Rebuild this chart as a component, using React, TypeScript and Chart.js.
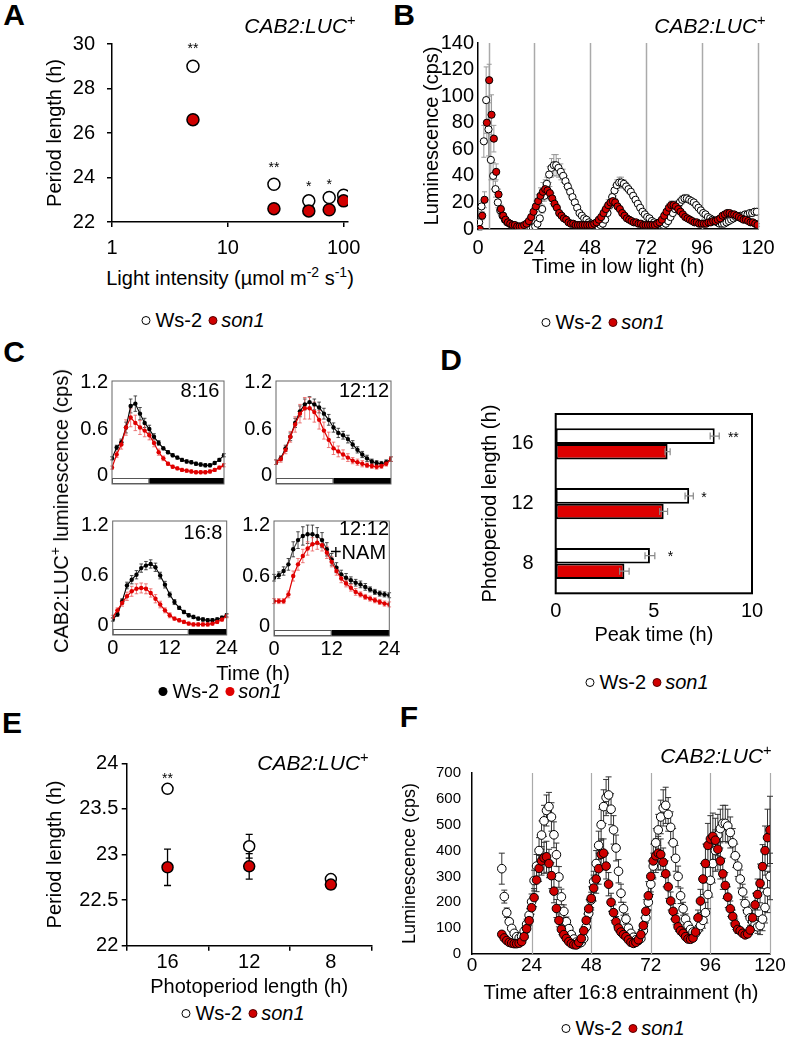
import React, { useEffect, useRef } from 'react';
import { Chart, registerables } from 'chart.js';

Chart.register(...registerables);

const FONT = '"Liberation Sans", Arial, Helvetica, sans-serif';
Chart.defaults.font.family = FONT;
Chart.defaults.color = '#000';

const RED = '#d00000';
const C_RED = '#e00000';
const seriesNames = ['Ws-2', 'son1'];

// ---------------- Panel A ----------------
const aLight = [5, 25, 50, 75, 100];
const aWs2 = [29.0, 23.7, 22.95, 23.1, 23.2];
const aSon1 = [26.6, 22.6, 22.5, 22.55, 22.95];
const aXTicks = [1, 10, 100];
const aYTicks = [22, 24, 26, 28, 30];
const aStarX = [5, 25, 50, 75];
const aStarY = [29.75, 24.4, 23.57, 23.64];
const aStarText = ['**', '**', '*', '*'];

// ---------------- Panel B ----------------
const bWsStart = 0.5;
const bSonStart = 0.8;
const bStep = 1;
const bXTicks = [0, 24, 48, 72, 96, 120];
const bGuideX = [4.7, 24, 48, 72, 96, 120];
const bWs2 = [
  5, 17, 66, 97, 75, 52, 40, 30, 20, 14, 10, 7,
  5, 4, 3, 2, 2, 1, 1, 1, 1, 1, 1, 1,
  2, 4, 8, 15, 25, 34, 41, 46, 48, 48, 46, 43,
  40, 36, 32, 28, 24, 20, 16, 12, 10, 8, 7, 5,
  4, 3, 3, 2, 3, 4, 7, 12, 18, 24, 29, 33,
  35, 35, 34, 32, 30, 28, 25, 22, 19, 16, 13, 11,
  9, 8, 6, 5, 4, 4, 3, 3, 4, 6, 9, 12,
  15, 18, 20, 22, 23, 23, 22, 21, 20, 18, 16, 14,
  12, 11, 9, 8, 7, 6, 5, 4, 4, 4, 5, 6,
  7, 8, 9, 9, 10, 10, 11, 11, 12, 12, 13, 13,
];
const bSon1 = [
  0, 10, 22, 80, 112, 86, 68, 43, 26, 15, 10, 7,
  5, 4, 3, 3, 2, 2, 2, 3, 4, 6, 9, 13,
  17, 21, 25, 28, 30, 29, 27, 23, 19, 16, 12, 10,
  8, 7, 5, 4, 4, 3, 3, 3, 3, 3, 3, 3,
  3, 4, 5, 7, 9, 12, 15, 18, 20, 21, 20, 17,
  15, 12, 10, 8, 7, 6, 5, 5, 4, 4, 3, 3,
  3, 3, 3, 3, 4, 5, 7, 10, 13, 16, 18, 18,
  17, 15, 13, 11, 9, 8, 7, 6, 5, 5, 4, 4,
  4, 4, 5, 5, 6, 6, 7, 8, 10, 11, 12, 12,
  11, 11, 10, 9, 8, 7, 7, 6, 5, 5, 4, 3,
];
const bWs2Err = [
  2, 4, 12, 25, 20, 15, 10, 6, 4, 3, 2, 2,
  1, 1, 1, 1, 1, 1, 1, 1, 1, 1, 1, 1,
  1, 1, 2, 3, 4, 5, 6, 7, 8, 8, 7, 6,
  5, 4, 3, 3, 2, 2, 2, 1, 1, 1, 1, 1,
  1, 1, 1, 1, 1, 1, 2, 2, 3, 3, 4, 4,
  4, 4, 3, 3, 3, 2, 2, 2, 2, 1, 1, 1,
  1, 1, 1, 1, 1, 1, 1, 1, 1, 2, 2, 2,
  3, 3, 3, 3, 3, 3, 2, 2, 2, 2, 2, 1,
  1, 1, 1, 1, 1, 1, 1, 1, 1, 1, 1, 1,
  1, 1, 1, 1, 1, 2, 2, 2, 2, 2, 2, 2,
];
const bSon1Err = [
  1, 3, 6, 15, 12, 15, 10, 6, 4, 3, 2, 1,
  1, 1, 1, 1, 1, 1, 1, 1, 1, 1, 2, 3,
  4, 5, 6, 7, 7, 6, 5, 4, 3, 2, 2, 1,
  1, 1, 1, 1, 1, 1, 1, 1, 1, 1, 1, 1,
  1, 1, 1, 2, 2, 3, 3, 4, 4, 3, 3, 2,
  2, 2, 1, 1, 1, 1, 1, 1, 1, 1, 1, 1,
  1, 1, 1, 1, 1, 1, 2, 2, 2, 3, 3, 3,
  2, 2, 2, 1, 1, 1, 1, 1, 1, 1, 1, 1,
  1, 1, 1, 1, 1, 1, 1, 1, 1, 2, 2, 2,
  2, 2, 1, 1, 1, 1, 1, 1, 1, 1, 1, 1,
];

// ---------------- Panel C ----------------
const cHours = [0, 1, 2, 3, 4, 5, 6, 7, 8, 9, 10, 11, 12, 13, 14, 15, 16, 17, 18, 19, 20, 21, 22, 23, 24];
const cYTicks = [0, 0.6, 1.2];
const cXTicks = [0, 12, 24];
const cLabels = ['8:16', '12:12', '16:8', '12:12'];
const cLightHours = [8, 12, 16, 12];
const c816Ws2 = [0.22, 0.36, 0.43, 0.62, 0.90, 0.93, 0.80, 0.68, 0.60, 0.50, 0.42, 0.35, 0.30, 0.26, 0.23, 0.20, 0.18, 0.17, 0.15, 0.14, 0.13, 0.13, 0.16, 0.20, 0.26];
const c816Son1 = [0.10, 0.27, 0.40, 0.62, 0.75, 0.68, 0.62, 0.58, 0.52, 0.42, 0.30, 0.22, 0.15, 0.11, 0.09, 0.07, 0.06, 0.05, 0.04, 0.04, 0.04, 0.05, 0.07, 0.10, 0.13];
const c1212Ws2 = [0.17, 0.22, 0.35, 0.50, 0.68, 0.83, 0.92, 0.95, 0.92, 0.88, 0.80, 0.72, 0.62, 0.55, 0.52, 0.47, 0.40, 0.33, 0.27, 0.22, 0.18, 0.16, 0.15, 0.17, 0.21];
const c1212Son1 = [0.17, 0.21, 0.33, 0.50, 0.66, 0.80, 0.87, 0.87, 0.82, 0.72, 0.58, 0.46, 0.35, 0.31, 0.27, 0.23, 0.19, 0.17, 0.15, 0.13, 0.12, 0.11, 0.12, 0.15, 0.21];
const c168Ws2 = [0.07, 0.13, 0.29, 0.48, 0.55, 0.61, 0.69, 0.72, 0.74, 0.70, 0.60, 0.49, 0.37, 0.28, 0.21, 0.16, 0.12, 0.10, 0.08, 0.07, 0.06, 0.06, 0.07, 0.09, 0.12];
const c168Son1 = [0.10, 0.18, 0.27, 0.35, 0.41, 0.44, 0.45, 0.44, 0.39, 0.32, 0.25, 0.18, 0.12, 0.08, 0.06, 0.04, 0.02, 0.01, 0.01, 0.01, 0.01, 0.02, 0.04, 0.07, 0.11];
const cNamWs2 = [0.58, 0.61, 0.66, 0.74, 0.92, 1.03, 1.08, 1.10, 1.10, 1.08, 1.03, 0.92, 0.80, 0.70, 0.62, 0.58, 0.55, 0.52, 0.50, 0.47, 0.44, 0.41, 0.39, 0.38, 0.37];
const cNamSon1 = [0.30, 0.30, 0.30, 0.38, 0.60, 0.74, 0.84, 0.93, 0.98, 1.00, 0.97, 0.88, 0.77, 0.66, 0.57, 0.51, 0.46, 0.41, 0.38, 0.35, 0.33, 0.31, 0.29, 0.27, 0.26];
const c816Ws2Err = [0.02, 0.03, 0.04, 0.07, 0.09, 0.10, 0.08, 0.06, 0.05, 0.04, 0.03, 0.02, 0.02, 0.02, 0.02, 0.02, 0.02, 0.02, 0.02, 0.02, 0.02, 0.02, 0.02, 0.02, 0.02];
const c816Son1Err = [0.02, 0.04, 0.06, 0.10, 0.12, 0.10, 0.09, 0.08, 0.06, 0.05, 0.04, 0.03, 0.02, 0.02, 0.02, 0.02, 0.02, 0.02, 0.02, 0.02, 0.02, 0.02, 0.02, 0.02, 0.02];
const c1212Ws2Err = [0.03, 0.03, 0.04, 0.05, 0.06, 0.07, 0.07, 0.07, 0.07, 0.07, 0.07, 0.07, 0.06, 0.06, 0.05, 0.05, 0.05, 0.04, 0.04, 0.04, 0.03, 0.03, 0.03, 0.03, 0.03];
const c1212Son1Err = [0.03, 0.04, 0.05, 0.07, 0.10, 0.12, 0.14, 0.14, 0.13, 0.12, 0.11, 0.10, 0.08, 0.07, 0.06, 0.05, 0.04, 0.04, 0.04, 0.03, 0.03, 0.03, 0.03, 0.03, 0.03];
const c168Ws2Err = [0.02, 0.02, 0.03, 0.04, 0.05, 0.05, 0.05, 0.05, 0.05, 0.05, 0.04, 0.04, 0.03, 0.03, 0.02, 0.02, 0.02, 0.02, 0.02, 0.02, 0.02, 0.02, 0.02, 0.02, 0.02];
const c168Son1Err = [0.02, 0.03, 0.04, 0.05, 0.06, 0.06, 0.06, 0.06, 0.05, 0.05, 0.04, 0.03, 0.03, 0.02, 0.02, 0.02, 0.02, 0.02, 0.02, 0.02, 0.02, 0.02, 0.02, 0.02, 0.02];
const cNamWs2Err = [0.04, 0.04, 0.05, 0.07, 0.09, 0.10, 0.11, 0.11, 0.11, 0.10, 0.09, 0.08, 0.07, 0.06, 0.05, 0.05, 0.04, 0.04, 0.04, 0.04, 0.03, 0.03, 0.03, 0.03, 0.03];
const cNamSon1Err = [0.03, 0.03, 0.03, 0.04, 0.06, 0.07, 0.08, 0.08, 0.08, 0.08, 0.07, 0.07, 0.06, 0.05, 0.05, 0.04, 0.04, 0.04, 0.03, 0.03, 0.03, 0.03, 0.03, 0.03, 0.03];

// ---------------- Panel D ----------------
const dCategories = ['16', '12', '8'];
const dWs2 = [8.1, 6.8, 4.8];
const dSon1 = [5.7, 5.5, 3.5];
const dWs2Err = [0.23, 0.21, 0.25];
const dSon1Err = [0.13, 0.2, 0.24];
const dXTicks = [0, 5, 10];
const dStarX = [9.05, 7.55, 5.85];
const dStarText = ['**', '*', '*'];

// ---------------- Panel E ----------------
const eCategories = ['16', '12', '8'];
const eWs2 = [23.72, 23.09, 22.73];
const eWs2Err = [0.03, 0.13, 0.03];
const eSon1 = [22.86, 22.87, 22.67];
const eSon1Err = [0.2, 0.14, 0.05];
const eYTicks = [22, 22.5, 23, 23.5, 24];
const eYTickLabels = ['22', '22.5', '23', '23.5', '24'];
const eStarText = ['**'];
const eStarY = [23.83];

// ---------------- Panel F ----------------
const fStart = 12;
const fStep = 1;
const fXTicks = [0, 24, 48, 72, 96, 120];
const fGuideX = [24, 48, 72, 96, 120];
const fWs2 = [
  330, 222, 160, 125, 99, 80, 67, 62, 68, 88, 115, 150,
  202, 284, 340, 400, 460, 515, 555, 570, 530, 461, 384, 298,
  221, 165, 125, 98, 75, 58, 46, 40, 45, 60, 105, 157,
  209, 280, 350, 420, 500, 570, 605, 615, 560, 480, 410, 320,
  235, 175, 135, 100, 80, 65, 55, 52, 60, 90, 140, 200,
  270, 340, 430, 480, 530, 565, 575, 540, 490, 430, 370, 300,
  225, 175, 135, 110, 95, 85, 80, 95, 110, 130, 160, 230,
  285, 350, 400, 460, 485, 505, 505, 495, 470, 430, 380, 340,
  290, 240, 195, 165, 140, 125, 115, 105, 110, 135, 180, 240,
  300,
];
const fSon1 = [
  76, 62, 52, 45, 42, 40, 40, 42, 48, 67, 98, 129,
  179, 218, 286, 331, 360, 372, 376, 350, 303, 243, 176, 130,
  95, 75, 60, 48, 40, 36, 35, 45, 60, 90, 130, 175,
  215, 255, 290, 330, 385, 390, 340, 270, 200, 160, 125, 100,
  85, 75, 67, 55, 45, 41, 45, 55, 75, 110, 165, 225,
  300, 360, 380, 390, 385, 355, 310, 260, 205, 165, 135, 105,
  90, 80, 67, 58, 57, 62, 85, 140, 205, 290, 350, 420,
  445, 455, 440, 405, 360, 310, 265, 220, 175, 145, 115, 95,
  90, 80, 74, 78, 93, 140, 190, 230, 273, 338, 400, 450,
  480,
];
const fWs2Err = [
  60, 25, 18, 12, 10, 8, 8, 8, 10, 15, 20, 25,
  30, 40, 45, 50, 55, 60, 60, 55, 55, 50, 45, 40,
  30, 25, 18, 15, 10, 8, 6, 6, 8, 10, 15, 20,
  30, 40, 50, 55, 60, 65, 70, 70, 60, 55, 50, 45,
  35, 25, 20, 15, 10, 8, 8, 8, 10, 15, 20, 30,
  40, 50, 55, 60, 65, 70, 70, 65, 60, 55, 50, 40,
  30, 25, 20, 15, 12, 12, 12, 15, 20, 30, 40, 55,
  65, 75, 80, 80, 75, 70, 70, 65, 60, 55, 45, 40,
  35, 30, 25, 20, 18, 18, 20, 25, 35, 45, 60, 80,
  90,
];
const fSon1Err = [
  10, 8, 6, 5, 5, 5, 5, 5, 6, 10, 15, 20,
  25, 35, 45, 50, 55, 60, 60, 55, 50, 45, 35, 25,
  20, 15, 10, 8, 6, 5, 5, 6, 10, 15, 25, 35,
  45, 50, 55, 60, 60, 55, 50, 45, 35, 30, 20, 15,
  12, 10, 8, 6, 5, 6, 8, 12, 20, 30, 45, 55,
  60, 65, 65, 65, 60, 55, 50, 45, 35, 30, 22, 18,
  14, 12, 10, 9, 8, 10, 15, 30, 45, 60, 75, 85,
  90, 90, 85, 80, 70, 60, 50, 40, 30, 25, 20, 15,
  12, 10, 10, 12, 18, 30, 45, 60, 75, 85, 95, 110,
  130,
];

// ---------------- helpers ----------------
const fnt = (size: number, style = 'normal', weight: any = 'normal') => ({ family: FONT, size, style, weight, lineHeight: 1.2 });
const tickStyle = (size: number, padding: number, extra: any = {}) => ({ font: fnt(size), color: '#000', padding, autoSkip: false, maxRotation: 0, minRotation: 0, ...extra });
const markGrid = (len: number) => ({ display: true, drawOnChartArea: false, drawTicks: true, tickLength: len, color: '#000', lineWidth: 1.5 });
const noGrid = { display: false, drawOnChartArea: false, drawTicks: false };
const blackBorder = { display: true, color: '#000', width: 1.5 };
const noBorder = { display: false };
const fixTicks = (vals: number[]) => (s: any) => { s.ticks = vals.map((value) => ({ value })); };
const fixWidth = (w: number) => (s: any) => { s.width = w; };
const fixHeight = (h: number) => (s: any) => { s.height = h; };
const yTitle = (text: string, size: number, pad: number) => ({ display: true, text, font: fnt(size), color: '#000', padding: { top: pad, bottom: 0 } });
const xTitle = (text: string, size: number, pad: number) => ({ display: true, text, font: fnt(size), color: '#000', padding: { top: 0, bottom: pad } });

function baseOptions(pad: any, scales: any, extra: any = {}) {
  return {
    responsive: false,
    maintainAspectRatio: false,
    animation: false,
    devicePixelRatio: 1,
    events: [],
    layout: { padding: { left: 0, right: 0, top: 0, bottom: 0, ...pad } },
    plugins: { legend: { display: false }, tooltip: { enabled: false }, title: { display: false } },
    scales,
    ...extra,
  };
}

let pluginCounter = 0;
function errorBars(sets: any[], after = false) {
  const draw = (chart: any) => {
    const ctx = chart.ctx;
    const xs = chart.scales.x;
    const ys = chart.scales.y;
    ctx.save();
    sets.forEach((s) => {
      const meta = chart.getDatasetMeta(s.index);
      const raw = chart.data.datasets[s.index].data;
      ctx.strokeStyle = s.color;
      ctx.lineWidth = s.width;
      ctx.beginPath();
      meta.data.forEach((el: any, i: number) => {
        const e = s.errors[i];
        if (!e) return;
        const d = raw[i];
        if (s.horizontal) {
          const v = typeof d === 'number' ? d : d.x;
          const y = el.y;
          const x1 = xs.getPixelForValue(v - e);
          const x2 = xs.getPixelForValue(v + e);
          ctx.moveTo(x1, y); ctx.lineTo(x2, y);
          ctx.moveTo(x1, y - s.cap); ctx.lineTo(x1, y + s.cap);
          ctx.moveTo(x2, y - s.cap); ctx.lineTo(x2, y + s.cap);
        } else {
          const v = typeof d === 'number' ? d : d.y;
          const x = el.x;
          const y1 = ys.getPixelForValue(v - e);
          const y2 = ys.getPixelForValue(v + e);
          ctx.moveTo(x, y1); ctx.lineTo(x, y2);
          ctx.moveTo(x - s.cap, y1); ctx.lineTo(x + s.cap, y1);
          ctx.moveTo(x - s.cap, y2); ctx.lineTo(x + s.cap, y2);
        }
      });
      ctx.stroke();
    });
    ctx.restore();
  };
  pluginCounter += 1;
  return after
    ? { id: 'errAfter' + pluginCounter, afterDatasetsDraw: draw }
    : { id: 'errBefore' + pluginCounter, beforeDatasetsDraw: draw };
}

function textMarks(items: any[], font: string) {
  pluginCounter += 1;
  return {
    id: 'marks' + pluginCounter,
    afterDatasetsDraw(chart: any) {
      const ctx = chart.ctx;
      ctx.save();
      ctx.font = font;
      ctx.fillStyle = '#000';
      ctx.textAlign = 'center';
      ctx.textBaseline = 'middle';
      items.forEach((it) => {
        ctx.fillText(it.text, chart.scales.x.getPixelForValue(it.x), chart.scales.y.getPixelForValue(it.y));
      });
      ctx.restore();
    },
  };
}

function guides(xsVals: number[], color: string, width: number) {
  pluginCounter += 1;
  return {
    id: 'guides' + pluginCounter,
    beforeDatasetsDraw(chart: any) {
      const ctx = chart.ctx;
      const { top, bottom } = chart.chartArea;
      ctx.save();
      ctx.strokeStyle = color;
      ctx.lineWidth = width;
      ctx.beginPath();
      xsVals.forEach((v) => {
        const px = Math.round(chart.scales.x.getPixelForValue(v)) + 0.5;
        ctx.moveTo(px, top);
        ctx.lineTo(px, bottom);
      });
      ctx.stroke();
      ctx.restore();
    },
  };
}

function frame(color: string, width: number) {
  pluginCounter += 1;
  return {
    id: 'frame' + pluginCounter,
    afterDatasetsDraw(chart: any) {
      const { left, top, right, bottom } = chart.chartArea;
      const ctx = chart.ctx;
      ctx.save();
      ctx.strokeStyle = color;
      ctx.lineWidth = width;
      ctx.strokeRect(left, top, right - left, bottom - top);
      ctx.restore();
    },
  };
}

function lightBar(lightHours: number, endHour: number) {
  pluginCounter += 1;
  return {
    id: 'light' + pluginCounter,
    afterDatasetsDraw(chart: any) {
      const xs = chart.scales.x;
      const { bottom } = chart.chartArea;
      const ctx = chart.ctx;
      const x0 = xs.getPixelForValue(0);
      const x1 = xs.getPixelForValue(lightHours);
      const x2 = xs.getPixelForValue(endHour);
      const h = 6;
      ctx.save();
      ctx.fillStyle = '#fff';
      ctx.fillRect(x0, bottom - h, x1 - x0, h);
      ctx.strokeStyle = '#555';
      ctx.lineWidth = 1;
      ctx.strokeRect(x0 + 0.5, bottom - h + 0.5, x1 - x0 - 1, h - 1);
      ctx.fillStyle = '#000';
      ctx.fillRect(x1, bottom - h, x2 - x1, h);
      ctx.restore();
    },
  };
}

// ---------------- chart configs ----------------
function buildA() {
  return {
    type: 'scatter',
    data: {
      datasets: [
        { label: seriesNames[1], data: aLight.map((x, i) => ({ x, y: aSon1[i] })), pointRadius: 6, backgroundColor: RED, borderColor: '#000', pointBorderWidth: 1.5, order: 0 },
        { label: seriesNames[0], data: aLight.map((x, i) => ({ x, y: aWs2[i] })), pointRadius: 6, backgroundColor: '#fff', borderColor: '#000', pointBorderWidth: 1.5, order: 1 },
      ],
    },
    options: baseOptions({ top: 19, right: 37 }, {
      x: {
        type: 'logarithmic', min: 1, max: 109,
        afterBuildTicks: fixTicks(aXTicks),
        ticks: tickStyle(20, 9, { callback: (v: any) => String(v) }),
        grid: markGrid(5), border: blackBorder,
        afterFit: fixHeight(40),
      },
      y: {
        type: 'linear', min: 22, max: 30,
        afterBuildTicks: fixTicks(aYTicks),
        ticks: tickStyle(20, 12),
        grid: markGrid(5), border: blackBorder,
        title: yTitle('Period length (h)', 20, 3),
        afterFit: fixWidth(72),
      },
    }),
    plugins: [textMarks(aStarX.map((x, i) => ({ x, y: aStarY[i], text: aStarText[i] })), `14px ${FONT}`)],
  };
}

function buildB() {
  return {
    type: 'scatter',
    data: {
      datasets: [
        { label: seriesNames[1], data: bSon1.map((y, i) => ({ x: bSonStart + i * bStep, y })), pointRadius: 3.6, backgroundColor: RED, borderColor: '#000', pointBorderWidth: 1, order: 0 },
        { label: seriesNames[0], data: bWs2.map((y, i) => ({ x: bWsStart + i * bStep, y })), pointRadius: 3.6, backgroundColor: '#fff', borderColor: '#000', pointBorderWidth: 1, order: 1 },
      ],
    },
    options: baseOptions({ top: 23, right: 27 }, {
      x: {
        type: 'linear', min: 0, max: 120,
        afterBuildTicks: fixTicks(bXTicks),
        ticks: tickStyle(20, 7),
        grid: noGrid, border: blackBorder,
        title: xTitle('Time in low light (h)', 20, 3),
        afterFit: fixHeight(53),
      },
      y: {
        type: 'linear', min: 0, max: 140,
        ticks: tickStyle(20, 4, { stepSize: 20 }),
        grid: noGrid, border: blackBorder,
        title: yTitle('Luminescence (cps)', 20, 3),
        afterFit: fixWidth(61),
      },
    }),
    plugins: [
      guides(bGuideX, '#aaaaaa', 1.5),
      errorBars([
        { index: 0, errors: bSon1Err, color: '#999', width: 1, cap: 2.5 },
        { index: 1, errors: bWs2Err, color: '#999', width: 1, cap: 2.5 },
      ]),
    ],
  };
}

const cSeries = [
  { ws: c816Ws2, so: c816Son1, wsErr: c816Ws2Err, soErr: c816Son1Err },
  { ws: c1212Ws2, so: c1212Son1, wsErr: c1212Ws2Err, soErr: c1212Son1Err },
  { ws: c168Ws2, so: c168Son1, wsErr: c168Ws2Err, soErr: c168Son1Err },
  { ws: cNamWs2, so: cNamSon1, wsErr: cNamWs2Err, soErr: cNamSon1Err },
];
const cLayout = [
  { left: 65, top: 365, width: 170, height: 135, padTop: 13, padRight: 11, yWidth: 47, xHeight: 7, yMin: -0.113, yMax: 1.224, showX: false },
  { left: 230, top: 365, width: 170, height: 135, padTop: 12, padRight: 9, yWidth: 46, xHeight: 7, yMin: -0.113, yMax: 1.224, showX: false },
  { left: 65, top: 505, width: 175, height: 160, padTop: 13, padRight: 13.3, yWidth: 47.7, xHeight: 30, yMin: -0.118, yMax: 1.259, showX: true },
  { left: 230, top: 505, width: 172, height: 160, padTop: 13, padRight: 12.7, yWidth: 44, xHeight: 29, yMin: -0.118, yMax: 1.259, showX: true },
];

function buildC(idx: number) {
  const s = cSeries[idx];
  const L = cLayout[idx];
  return {
    type: 'line',
    data: {
      datasets: [
        { label: seriesNames[1], data: cHours.map((x, i) => ({ x, y: s.so[i] })), borderColor: C_RED, backgroundColor: C_RED, borderWidth: 1.2, pointRadius: 2.2, pointBorderWidth: 0, order: 0 },
        { label: seriesNames[0], data: cHours.map((x, i) => ({ x, y: s.ws[i] })), borderColor: idx === 3 ? '#444' : '#000', pointBackgroundColor: '#000', backgroundColor: '#000', borderWidth: 1.1, pointRadius: 2.2, pointBorderWidth: 0, order: 1 },
      ],
    },
    options: baseOptions({ top: L.padTop, right: L.padRight }, {
      x: {
        type: 'linear', min: 0, max: 24,
        afterBuildTicks: fixTicks(cXTicks),
        ticks: tickStyle(20, 1, { display: L.showX }),
        grid: noGrid, border: noBorder,
        afterFit: fixHeight(L.xHeight),
      },
      y: {
        type: 'linear', min: L.yMin, max: L.yMax,
        afterBuildTicks: fixTicks(cYTicks),
        ticks: tickStyle(20, 4),
        grid: noGrid, border: noBorder,
        afterFit: fixWidth(L.yWidth),
      },
    }),
    plugins: [
      errorBars([
        { index: 1, errors: s.wsErr, color: '#222', width: 0.8, cap: 1.8 },
        { index: 0, errors: s.soErr, color: '#e85a5a', width: 0.8, cap: 1.8 },
      ]),
      lightBar(cLightHours[idx], 24),
      frame('#666', 1),
    ],
  };
}
const buildCs = [0, 1, 2, 3].map((i) => () => buildC(i));

function buildD() {
  return {
    type: 'bar',
    data: {
      labels: dCategories,
      datasets: [
        { label: seriesNames[0], data: dWs2, backgroundColor: '#fff', borderColor: '#000', borderWidth: 2, borderSkipped: false, categoryPercentage: 0.52, barPercentage: 1 },
        { label: seriesNames[1], data: dSon1, backgroundColor: '#dd0000', borderColor: '#000', borderWidth: 2, borderSkipped: false, categoryPercentage: 0.52, barPercentage: 1 },
      ],
    },
    options: baseOptions({ top: 16, right: 33 }, {
      x: {
        type: 'linear', min: 0, max: 10,
        afterBuildTicks: fixTicks(dXTicks),
        ticks: tickStyle(20, 6.4),
        grid: noGrid, border: noBorder,
        title: xTitle('Peak time (h)', 20, 3),
        afterFit: fixHeight(56.7),
      },
      y: {
        type: 'category',
        ticks: tickStyle(20, 22),
        grid: noGrid, border: noBorder,
        title: yTitle('Photoperiod length (h)', 20, 3),
        afterFit: fixWidth(80.7),
      },
    }, { indexAxis: 'y' }),
    plugins: [
      errorBars([
        { index: 0, errors: dWs2Err, color: '#888', width: 1.2, cap: 3.5, horizontal: true },
        { index: 1, errors: dSon1Err, color: '#888', width: 1.2, cap: 3.5, horizontal: true },
      ], true),
      frame('#000', 2),
      textMarks(dStarX.map((x, i) => ({ x, y: i - 0.1, text: dStarText[i] })), `14px ${FONT}`),
    ],
  };
}

function buildE() {
  return {
    type: 'line',
    data: {
      labels: eCategories,
      datasets: [
        { label: seriesNames[1], data: eSon1, showLine: false, pointRadius: 5.5, backgroundColor: RED, borderColor: '#000', pointBorderWidth: 1.5, order: 0 },
        { label: seriesNames[0], data: eWs2, showLine: false, pointRadius: 5.5, backgroundColor: '#fff', borderColor: '#000', pointBorderWidth: 1.5, order: 1 },
      ],
    },
    options: baseOptions({ top: 23.3, right: 13.3 }, {
      x: {
        type: 'category', offset: true,
        ticks: tickStyle(20, 0),
        grid: { ...markGrid(5), offset: true },
        border: blackBorder,
        title: xTitle('Photoperiod length (h)', 20, 3),
        afterFit: fixHeight(56.3),
      },
      y: {
        type: 'linear', min: 22, max: 24,
        afterBuildTicks: fixTicks(eYTicks),
        ticks: tickStyle(20, 3.4, { callback: (v: any) => eYTickLabels[eYTicks.indexOf(v)] ?? String(v) }),
        grid: markGrid(5), border: blackBorder,
        title: yTitle('Period length (h)', 20, 3),
        afterFit: fixWidth(86.7),
      },
    }),
    plugins: [
      errorBars([
        { index: 0, errors: eSon1Err, color: '#000', width: 1.3, cap: 3.5 },
        { index: 1, errors: eWs2Err, color: '#000', width: 1.3, cap: 3.5 },
      ]),
      textMarks(eStarText.map((text, i) => ({ x: i, y: eStarY[i], text })), `14px ${FONT}`),
    ],
  };
}

function buildF() {
  return {
    type: 'scatter',
    data: {
      datasets: [
        { label: seriesNames[1], data: fSon1.map((y, i) => ({ x: fStart + i * fStep, y })), pointRadius: 4.3, backgroundColor: RED, borderColor: '#000', pointBorderWidth: 1, order: 0 },
        { label: seriesNames[0], data: fWs2.map((y, i) => ({ x: fStart + i * fStep, y })), pointRadius: 4.3, backgroundColor: '#fff', borderColor: '#000', pointBorderWidth: 1, order: 1 },
      ],
    },
    options: baseOptions({ top: 28, right: 19 }, {
      x: {
        type: 'linear', min: 0, max: 120,
        afterBuildTicks: fixTicks(fXTicks),
        ticks: tickStyle(19, 0),
        grid: noGrid, border: blackBorder,
        title: xTitle('Time after 16:8 entrainment (h)', 20, 3),
        afterFit: fixHeight(54),
      },
      y: {
        type: 'linear', min: 0, max: 700,
        ticks: tickStyle(15, 11, { stepSize: 100 }),
        grid: noGrid, border: blackBorder,
        title: yTitle('Luminescence (cps)', 18, 4.2),
        afterFit: fixWidth(77),
      },
    }),
    plugins: [
      guides(fGuideX, '#aaaaaa', 1.2),
      errorBars([
        { index: 1, errors: fWs2Err, color: '#333', width: 1, cap: 3 },
        { index: 0, errors: fSon1Err, color: '#333', width: 1, cap: 3 },
      ]),
    ],
  };
}

// ---------------- components ----------------
function ChartBox({ left, top, width, height, build }: any) {
  const ref = useRef<HTMLCanvasElement | null>(null);
  useEffect(() => {
    if (!ref.current) return;
    const chart = new Chart(ref.current, build() as any);
    return () => chart.destroy();
  }, [build]);
  return <canvas ref={ref} width={width} height={height} style={{ position: 'absolute', left, top, width, height }} />;
}

function T({ x, y, size = 20, children, italic, bold, rotate }: any) {
  const tr = 'translate(-50%, -50%)' + (rotate ? ` rotate(${rotate}deg)` : '');
  return (
    <div style={{ position: 'absolute', left: x, top: y, transform: tr, fontFamily: FONT, fontSize: size, lineHeight: 1, whiteSpace: 'nowrap', fontStyle: italic ? 'italic' : 'normal', fontWeight: bold ? 'bold' : 'normal', color: '#000' }}>
      {children}
    </div>
  );
}

const Sup = ({ children }: any) => (
  <span style={{ fontSize: '0.7em', position: 'relative', top: '-0.55em', fontStyle: 'normal' }}>{children}</span>
);

function Legend({ x, y, hollow }: any) {
  const dot = (bg: string, border: string) => (
    <span style={{ display: 'inline-block', width: 9, height: 9, borderRadius: '50%', background: bg, border, boxSizing: 'border-box', verticalAlign: 'middle', position: 'relative', top: -1 }} />
  );
  return (
    <T x={x} y={y}>
      {hollow ? dot('#fff', '1px solid #000') : dot('#000', 'none')}
      <span style={{ marginLeft: 5 }}>{seriesNames[0]}</span>
      <span style={{ display: 'inline-block', width: 6 }} />
      {hollow ? dot(RED, '1px solid #500') : dot(C_RED, 'none')}
      <i style={{ marginLeft: 4 }}>{seriesNames[1]}</i>
    </T>
  );
}

const Cab = ({ x, y }: any) => (
  <T x={x} y={y} size={21} italic>CAB2:LUC<Sup>+</Sup></T>
);

export default function App() {
  return (
    <div style={{ position: 'absolute', left: 0, top: 0, width: 789, height: 1039, background: '#fff', overflow: 'hidden' }}>
      <ChartBox left={40} top={20} width={345} height={242} build={buildA} />
      <ChartBox left={417} top={20} width={368} height={262} build={buildB} />
      {cLayout.map((L, i) => (
        <ChartBox key={i} left={L.left} top={L.top} width={L.width} height={L.height} build={buildCs[i]} />
      ))}
      <ChartBox left={475} top={380} width={310} height={270} build={buildD} />
      <ChartBox left={40} top={740} width={345} height={262} build={buildE} />
      <ChartBox left={395} top={745} width={394} height={263} build={buildF} />

      {/* panel letters */}
      <T x={14} y={15} size={30} bold>A</T>
      <T x={404} y={15} size={30} bold>B</T>
      <T x={14} y={352} size={30} bold>C</T>
      <T x={451} y={360} size={30} bold>D</T>
      <T x={12} y={723} size={30} bold>E</T>
      <T x={409} y={717} size={30} bold>F</T>

      {/* headers */}
      <Cab x={300} y={25} />
      <Cab x={710} y={25} />
      <Cab x={313} y={762} />
      <Cab x={716} y={755} />

      {/* A x title */}
      <T x={230} y={278}>Light intensity (µmol m<Sup>-2</Sup> s<Sup>-1</Sup>)</T>

      {/* C labels */}
      <T x={200} y={390}>{cLabels[0]}</T>
      <T x={364} y={390}>{cLabels[1]}</T>
      <T x={203} y={532}>{cLabels[2]}</T>
      <T x={364} y={528}>{cLabels[3]}</T>
      <T x={358} y={552}>+NAM</T>
      <T x={61} y={511} rotate={-90}>CAB2:LUC<Sup>+</Sup> luminescence (cps)</T>
      <T x={253} y={673}>Time (h)</T>

      {/* legends */}
      <Legend x={203} y={320} hollow />
      <Legend x={603} y={322} hollow />
      <Legend x={220} y={691} />
      <Legend x={647} y={682} hollow />
      <Legend x={243} y={1013} hollow />
      <Legend x={623} y={1028} hollow />
    </div>
  );
}
